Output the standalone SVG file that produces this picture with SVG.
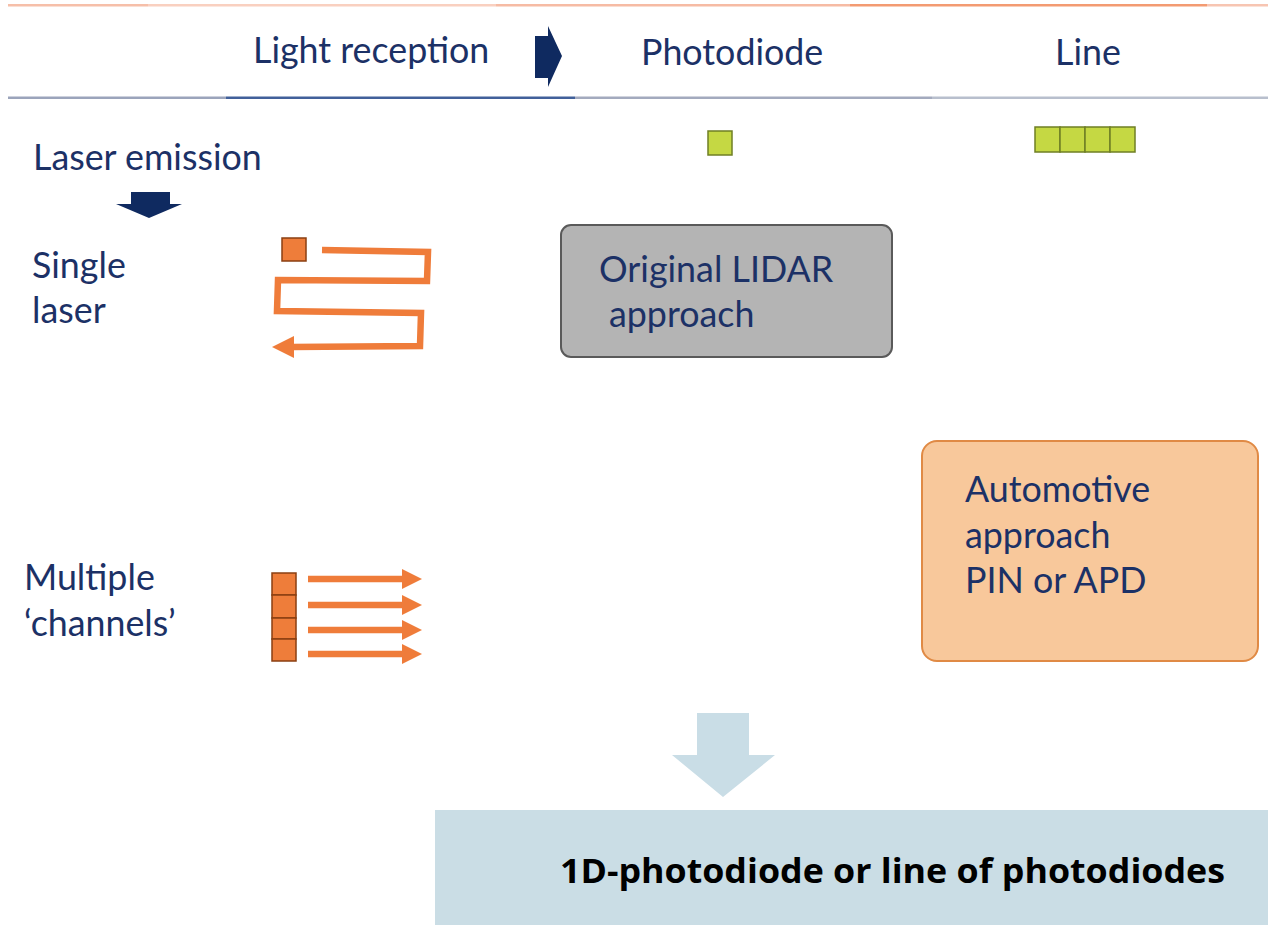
<svg xmlns="http://www.w3.org/2000/svg" width="1268" height="925" viewBox="0 0 1268 925">
  <style>
    .t { font-family: Lato, "Open Sans", "Liberation Sans", sans-serif; font-size: 35.8px; fill: #1c3166; }
    .green { fill: #c5d843; stroke: #6f7f24; stroke-width: 1.5; }
    .cell { fill: #ee7d3a; stroke: #8a3f12; stroke-width: 1.5; }
    .scan { fill: none; stroke: #ef7c3a; stroke-width: 6.5; stroke-linejoin: miter; }
    .shaft { stroke: #ef7c3a; stroke-width: 6.5; }
    .head { fill: #ef7c3a; }
  </style>

  <rect width="1268" height="925" fill="#ffffff"/>

  <!-- header rules -->
  <g id="header-rules">
    <rect x="8" y="4" width="140" height="2.5" fill="#f6bfa9"/>
    <rect x="148" y="4" width="348" height="2.5" fill="#f9d0c0"/>
    <rect x="496" y="4" width="354" height="2.5" fill="#f6bba4"/>
    <rect x="850" y="4" width="357" height="2.5" fill="#f39b72"/>
    <rect x="1207" y="4" width="61" height="2.5" fill="#f7c5b2"/>
    <rect x="8" y="96.5" width="218" height="2.5" fill="#9ba4bb"/>
    <rect x="226" y="96.5" width="349" height="2.5" fill="#41609a"/>
    <rect x="575" y="96.5" width="357" height="2.5" fill="#a3aabe"/>
    <rect x="932" y="96.5" width="336" height="2.5" fill="#b8bfcd"/>
  </g>

  <!-- column headings -->
  <g id="heading-light-reception">
    <text class="t" x="253" y="63">Light reception</text>
  </g>
  <g id="heading-arrow">
    <path d="M535,36 L548,36 L548,26 L562,56 L548,87 L548,78 L535,78 Z" fill="#0f2a60"/>
  </g>
  <g id="heading-photodiode">
    <text class="t" x="641" y="65">Photodiode</text>
  </g>
  <g id="heading-line">
    <text class="t" x="1055" y="65">Line</text>
  </g>

  <!-- detector icons -->
  <g id="icon-photodiode">
    <rect class="green" x="708" y="131" width="24" height="24"/>
  </g>
  <g id="icon-line">
    <rect class="green" x="1035" y="127" width="25" height="25"/>
    <rect class="green" x="1060" y="127" width="25" height="25"/>
    <rect class="green" x="1085" y="127" width="25" height="25"/>
    <rect class="green" x="1110" y="127" width="25" height="25"/>
  </g>

  <!-- row headings -->
  <g id="heading-laser-emission">
    <text class="t" x="33" y="170">Laser emission</text>
    <path d="M131,192 L170,192 L170,204 L182,204 L149,218 L116,204 L131,204 Z" fill="#0f2a60"/>
  </g>
  <g id="label-single-laser">
    <text class="t" x="32" y="278">Single</text>
    <text class="t" x="32" y="323">laser</text>
  </g>
  <g id="label-multiple-channels">
    <text class="t" x="24" y="590">Multiple</text>
    <text class="t" x="24" y="636">‘channels’</text>
  </g>

  <!-- single laser with raster scan -->
  <g id="single-laser">
    <rect class="cell" x="282" y="238" width="24" height="23"/>
    <path class="scan" d="M322,250 L428,252 L427,281 L278,280 L277,311 L421,313 L420,346 L292,347"/>
    <path class="head" d="M272,347 L294,336 L294,358 Z"/>
  </g>

  <!-- multiple channels with parallel beams -->
  <g id="multiple-channels">
    <rect class="cell" x="272" y="573" width="24" height="22"/>
    <rect class="cell" x="272" y="595" width="24" height="23"/>
    <rect class="cell" x="272" y="618" width="24" height="21"/>
    <rect class="cell" x="272" y="639" width="24" height="22"/>
    <line class="shaft" x1="308" y1="579" x2="404" y2="579"/>
    <path class="head" d="M402,569 L422,579 L402,589 Z"/>
    <line class="shaft" x1="308" y1="605" x2="404" y2="605"/>
    <path class="head" d="M402,595 L422,605 L402,615 Z"/>
    <line class="shaft" x1="308" y1="630" x2="404" y2="630"/>
    <path class="head" d="M402,620 L422,630 L402,640 Z"/>
    <line class="shaft" x1="308" y1="654" x2="404" y2="654"/>
    <path class="head" d="M402,644 L422,654 L402,664 Z"/>
  </g>

  <!-- approach boxes -->
  <g id="box-original-lidar">
    <rect x="561" y="225" width="331" height="132" rx="10" fill="#b4b4b4" stroke="#5a5a5a" stroke-width="2"/>
    <text class="t" x="599" y="282">Original LIDAR</text>
    <text class="t" x="609" y="327">approach</text>
  </g>
  <g id="box-automotive">
    <rect x="922" y="441" width="336" height="220" rx="15" fill="#f8c89b" stroke="#e08a45" stroke-width="2"/>
    <text class="t" x="965" y="502">Automotive</text>
    <text class="t" x="965" y="548">approach</text>
    <text class="t" x="965" y="593">PIN or APD</text>
  </g>

  <!-- result -->
  <g id="connectors">
    <path d="M697,713 L749,713 L749,755 L775,755 L723,797 L672,755 L697,755 Z" fill="#c9dde6"/>
  </g>
  <g id="box-result">
    <rect x="435" y="810" width="833" height="115" fill="#cadde5"/>
    <text x="560" y="883" font-family="'Open Sans', 'Liberation Sans', sans-serif" font-size="34" font-weight="bold" fill="#000000" textLength="665" lengthAdjust="spacingAndGlyphs">1D-photodiode or line of photodiodes</text>
  </g>
</svg>
